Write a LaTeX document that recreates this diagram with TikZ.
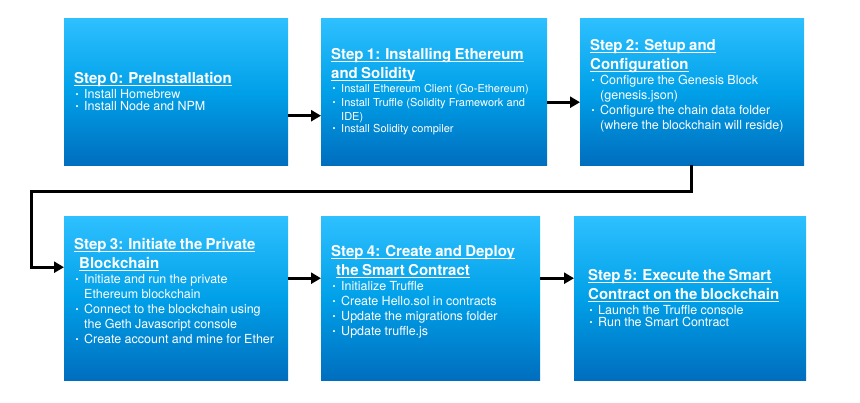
\documentclass[tikz,border=0pt]{standalone}
\usepackage{fontspec}
\setmainfont{TeX Gyre Heros}
\usetikzlibrary{arrows.meta}

\definecolor{boxtop}{RGB}{46,192,255}
\definecolor{boxmid}{RGB}{0,160,232}
\definecolor{boxbot}{RGB}{0,110,190}

\newcommand{\titlefont}{\fontsize{15}{18.5}\selectfont\bfseries}
\newcommand{\itemfont}{\fontsize{12.5}{15}\selectfont}
\newcommand{\brk}{\hfil\break}
\newcommand{\ulstep}[1]{\leavevmode{\setbox0\hbox{#1}\rlap{\rule[-2.4pt]{\wd0}{1pt}}\box0}}
\newcommand{\stepitem}[1]{\par\hangindent=10pt\hangafter=1\noindent
  \makebox[10pt][l]{\hspace{1.5pt}\raisebox{0.8pt}{\fontsize{8.5}{8.5}\selectfont\textbullet}}#1}

\begin{document}
\begin{tikzpicture}[x=1pt, y=-1pt,
    stepbox/.style={anchor=north west, inner xsep=10pt, inner ysep=0pt,
      align=left, text=white, top color=boxtop, bottom color=boxbot,
      middle color=boxmid},
    flow/.style={line width=3pt, -{Triangle[length=10pt, width=11pt]}}]
    \useasboundingbox (0,0) rectangle (860,402);

    \node (s0) at (64,18) [stepbox, minimum height=147pt, text width=204pt]
      {{\titlefont \ulstep{Step 0: PreInstallation}\par}
       \itemfont
       \stepitem{Install Homebrew}
       \stepitem{Install Node and NPM}};
    \node (s1) at (321,18) [stepbox, minimum height=147pt, text width=206pt]
      {{\titlefont \ulstep{Step 1: Installing Ethereum}\brk\ulstep{and Solidity}\par}
       \fontsize{11}{14}\selectfont
       \stepitem{Install Ethereum Client (Go-Ethereum)}
       \stepitem{Install Truffle (Solidity Framework and\brk IDE)}
       \stepitem{Install Solidity compiler}};
    \node (s2) at (580,18) [stepbox, minimum height=147pt, text width=204pt]
      {{\titlefont \ulstep{Step 2: Setup and}\brk\ulstep{Configuration}\par}
       \itemfont
       \stepitem{Configure the Genesis Block\brk(genesis.json)}
       \stepitem{Configure the chain data folder\brk(where the blockchain will reside)}
       \par\kern12pt};

    \node (s3) at (64,216) [stepbox, minimum height=164pt, text width=204pt]
      {{\titlefont \ulstep{Step 3: Initiate the Private}\brk\hspace*{5pt}\ulstep{Blockchain}\par}
       \itemfont
       \stepitem{Initiate and run the private\brk Ethereum blockchain}
       \stepitem{Connect to the blockchain using\brk the Geth Javascript console}
       \stepitem{Create account and mine for Ether}
       \par\kern14pt};
    \node (s4) at (321,216) [stepbox, minimum height=164pt, text width=199pt]
      {{\titlefont \ulstep{Step 4: Create and Deploy}\brk\hspace*{5pt}\ulstep{the Smart Contract}\par}
       \itemfont
       \stepitem{Initialize Truffle}
       \stepitem{Create Hello.sol in contracts}
       \stepitem{Update the migrations folder}
       \stepitem{Update truffle.js}
       \par\kern13pt};
    \node (s5) at (574,216) [stepbox, minimum height=164pt, inner xsep=14pt, text width=204pt]
      {{\titlefont \ulstep{Step 5: Execute the Smart}\brk\ulstep{Contract on the blockchain}\par}
       \itemfont
       \stepitem{Launch the Truffle console}
       \stepitem{Run the Smart Contract}};

    \coordinate (turn) at (31,191);

    \draw [flow] ([yshift=-24pt]s0.east) -- ([yshift=-24pt]s1.west);
    \draw [flow] ([yshift=-10.5pt]s1.east) -- ([yshift=-10.5pt]s2.west);
    \draw [flow] ([xshift=-1pt]s2.south) |- (turn) |- ([yshift=31pt]s3.west);
    \draw [flow] ([yshift=20pt]s3.east) -- ([yshift=20pt]s4.west);
    \draw [flow] ([yshift=20pt]s4.east) -- ([yshift=20pt]s5.west);
\end{tikzpicture}
\end{document}
